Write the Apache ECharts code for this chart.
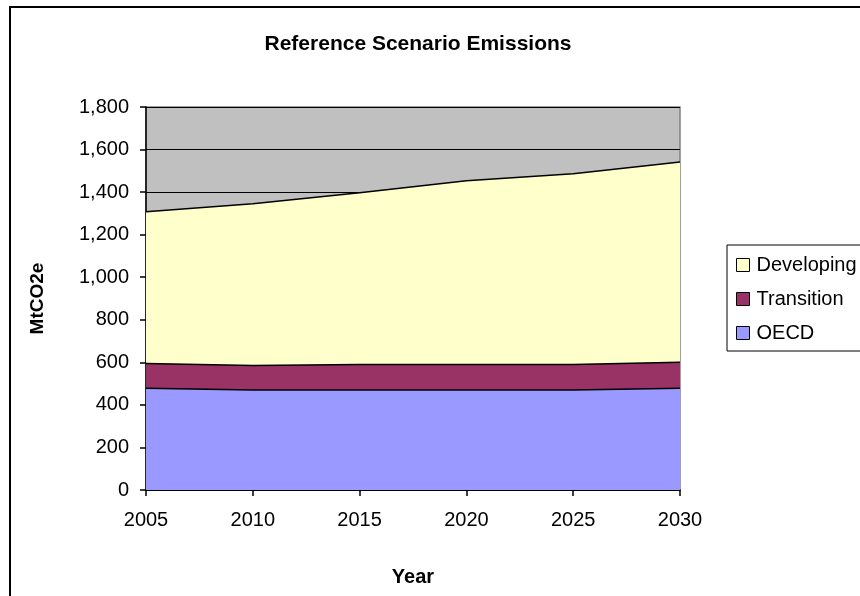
<!DOCTYPE html>
<html>
<head>
<meta charset="utf-8">
<script src="https://cdn.jsdelivr.net/npm/echarts@6/dist/echarts.min.js"></script>
<style>
  html, body { margin: 0; padding: 0; background: #ffffff; }
  #chart { width: 860px; height: 596px; }
</style>
</head>
<body>
<div id="chart"></div>
<script>
// Years on the horizontal axis
const years = ['2005', '2010', '2015', '2020', '2025', '2030'];
// Emissions by region, MtCO2e (stacked)
const oecd = [478, 470, 470, 470, 470, 478];
const transition = [117, 115, 120, 120, 120, 122];
const developing = [713, 760, 807, 863, 896, 942];

const FONT = 'Liberation Sans, Arial, sans-serif';

const chart = echarts.init(document.getElementById('chart'), null, { renderer: 'canvas' });

function area(name, data, color) {
  return {
    name: name,
    type: 'line',
    stack: 'total',
    data: data,
    symbol: 'none',
    showSymbol: false,
    lineStyle: { color: '#000000', width: 1.5 },
    itemStyle: { color: color, borderColor: '#000000', borderWidth: 1 },
    areaStyle: { color: color, opacity: 1 },
    emphasis: { disabled: true },
    silent: true
  };
}

chart.setOption({
  animation: false,
  backgroundColor: '#ffffff',
  textStyle: { fontFamily: FONT },
  title: {
    text: 'Reference Scenario Emissions',
    left: 413,
    textAlign: 'center',
    top: 29,
    textStyle: { fontFamily: FONT, fontSize: 21, fontWeight: 'bold', color: '#000000' }
  },
  graphic: [{
    type: 'rect',
    shape: { x: 10, y: 7, width: 900, height: 700 },
    style: { fill: 'none', stroke: '#000000', lineWidth: 2 },
    silent: true
  }],
  legend: {
    orient: 'vertical',
    left: 727,
    top: 245,
    data: ['Developing', 'Transition', 'OECD'],
    icon: 'rect',
    itemWidth: 13,
    itemHeight: 13,
    itemGap: 14,
    padding: [10, 30, 8, 9],
    borderColor: '#000000',
    borderWidth: 1,
    backgroundColor: '#ffffff',
    itemStyle: { borderColor: '#000000', borderWidth: 1 },
    textStyle: { fontFamily: FONT, fontSize: 20, color: '#000000', padding: [0, 0, 0, 2] }
  },
  grid: {
    left: 146,
    top: 107,
    right: 180,
    bottom: 106,
    show: true,
    backgroundColor: '#C0C0C0',
    borderColor: '#808080',
    borderWidth: 1.5
  },
  xAxis: {
    type: 'category',
    data: years,
    boundaryGap: false,
    name: 'Year',
    nameLocation: 'middle',
    nameGap: 77,
    nameTextStyle: { fontFamily: FONT, fontSize: 20, fontWeight: 'bold', color: '#000000', verticalAlign: 'top' },
    axisLine: { lineStyle: { color: '#000000', width: 1.5 } },
    axisTick: { show: true, inside: false, length: 6, alignWithLabel: true, lineStyle: { color: '#000000', width: 1.5 } },
    axisLabel: { fontFamily: FONT, fontSize: 20, color: '#000000', margin: 20 },
    splitLine: { show: false }
  },
  yAxis: {
    type: 'value',
    min: 0,
    max: 1800,
    interval: 200,
    name: 'MtCO2e',
    nameLocation: 'middle',
    nameRotate: 90,
    nameGap: 99,
    nameTextStyle: { fontFamily: FONT, fontSize: 19, fontWeight: 'bold', color: '#000000' },
    axisLine: { show: true, lineStyle: { color: '#000000', width: 1.5 } },
    axisTick: { show: true, inside: false, length: 6, lineStyle: { color: '#000000', width: 1.5 } },
    axisLabel: {
      fontFamily: FONT,
      fontSize: 20,
      color: '#000000',
      margin: 17,
      formatter: function (v) { return v.toLocaleString('en-US'); }
    },
    splitLine: { show: true, lineStyle: { color: '#000000', width: 1.2 } }
  },
  series: [
    area('OECD', oecd, '#9999FF'),
    area('Transition', transition, '#993366'),
    area('Developing', developing, '#FFFFCC')
  ]
});
</script>
</body>
</html>
